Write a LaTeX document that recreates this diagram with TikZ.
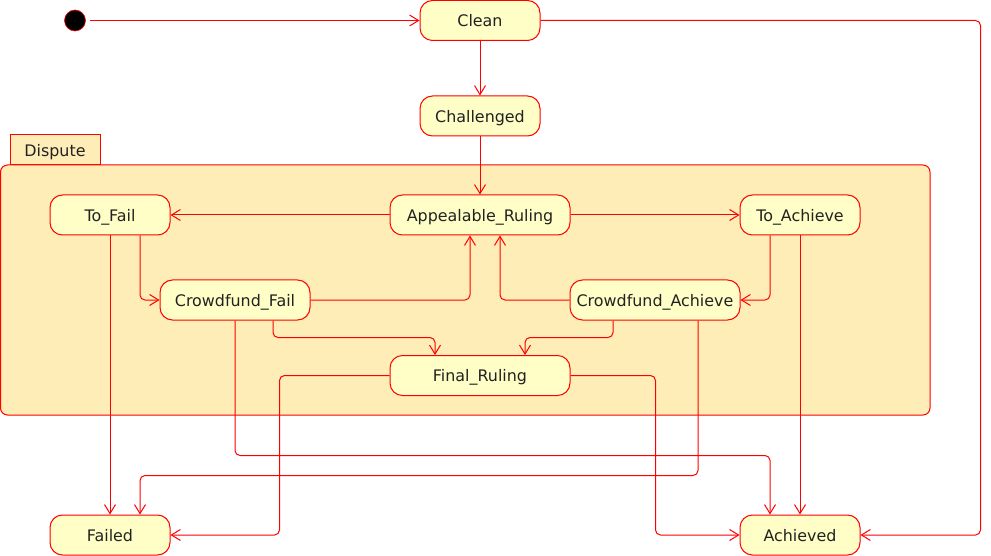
\documentclass[tikz,border=0pt]{standalone}
\usepackage{fontspec}
\setmainfont{DejaVu Sans}
\usetikzlibrary{arrows.meta}
\definecolor{lnred}{HTML}{FF0000}
\definecolor{stfill}{HTML}{FEFEC6}
\definecolor{boxfill}{HTML}{FEEDB6}
\definecolor{txt}{HTML}{222222}
\tikzset{
  stbox/.style={draw=lnred, fill=stfill, line width=1pt, rounded corners=12.5pt,
    minimum height=40pt, inner sep=0pt, text=txt, text height=12.6pt, text depth=0pt,
    font=\fontsize{15.9}{18}\selectfont},
  conn/.style={draw=lnred, line width=1pt, rounded corners=5pt,
    -{Straight Barb[length=9pt,width=11pt,line width=1pt]}},
}
\begin{document}
\begin{tikzpicture}[x=1pt,y=-1pt]
\useasboundingbox (0,0) rectangle (991,556);
% composite state Dispute
\draw[draw=lnred, fill=boxfill, line width=1pt] (10,135) rectangle (100,165);
\node[text=txt, inner sep=0pt, text height=12.6pt, text depth=0pt, font=\fontsize{15.9}{18}\selectfont] (disputelbl) at (55,150.5) {Dispute};
\draw[draw=lnred, fill=boxfill, line width=1pt, rounded corners=7pt] (0.5,165) rectangle (930,415);
% initial state
\node[circle, fill=black, draw=lnred, line width=0.6pt, minimum size=21pt, inner sep=0pt] (init) at (75,20.5) {};
% states
\node[stbox, minimum width=120pt] (clean) at (480,20.5) {Clean};
\node[stbox, minimum width=120pt] (chal) at (480,116) {Challenged};
\node[stbox, minimum width=120pt] (tofail) at (110,215) {To\_Fail};
\node[stbox, minimum width=180pt] (appeal) at (480,215) {Appealable\_Ruling};
\node[stbox, minimum width=120pt] (toach) at (800,215) {To\_Achieve};
\node[stbox, minimum width=150pt] (cff) at (235,300) {Crowdfund\_Fail};
\node[stbox, minimum width=170pt] (cfa) at (655,300) {Crowdfund\_Achieve};
\node[stbox, minimum width=180pt] (final) at (480,375.5) {Final\_Ruling};
\node[stbox, minimum width=120pt] (failed) at (110,535) {Failed};
\node[stbox, minimum width=120pt] (ach) at (800,535) {Achieved};
% transitions
\draw[conn] ([xshift=4pt]init.east) -- (clean.west);
\draw[conn] (clean.south) -- (chal.north);
\draw[conn] (clean.east) -- ++(440,0) |- (ach.east);
\draw[conn] (chal.south) -- (appeal.north);
\draw[conn] (appeal.west) -- (tofail.east);
\draw[conn] (appeal.east) -- (toach.west);
\draw[conn] ([xshift=30pt]tofail.south) |- (cff.west);
\draw[conn] (tofail.south) -- (failed.north);
\draw[conn] (cff.east) -| ([xshift=-10pt]appeal.south);
\draw[conn] ([xshift=38pt]cff.south) -- ++(0,17) -| ([xshift=-45pt]final.north);
\draw[conn] (cff.south) -- ++(0,135) -| ([xshift=-30pt]ach.north);
\draw[conn] ([xshift=-30pt]toach.south) |- (cfa.east);
\draw[conn] (toach.south) -- (ach.north);
\draw[conn] (cfa.west) -| ([xshift=20pt]appeal.south);
\draw[conn] ([xshift=-42pt]cfa.south) -- ++(0,17) -| ([xshift=45pt]final.north);
\draw[conn] ([xshift=43pt]cfa.south) -- ++(0,155) -| ([xshift=30pt]failed.north);
\draw[conn] (final.west) -- ++(-110,0) |- (failed.east);
\draw[conn] (final.east) -- ++(85,0) |- (ach.west);
\end{tikzpicture}
\end{document}
